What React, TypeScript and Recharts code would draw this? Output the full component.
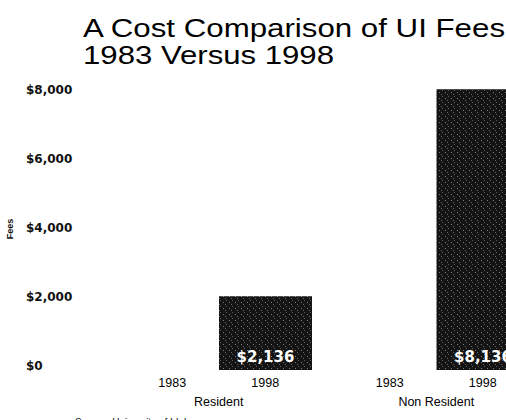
import React from 'react';
import { BarChart, Bar, XAxis, YAxis, LabelList } from 'recharts';

const categories = ['Resident', 'Non Resident'];
const years = ['1983', '1998'];
// 1983 bars are not visible in the picture
const fees1983 = [0, 0];
const fees1998 = [2136, 8136];
const yTicks = [0, 2000, 4000, 6000, 8000];

const data = categories.map((name, i) => ({
  name,
  y1983: fees1983[i],
  y1998: fees1998[i],
}));

const money = (v: number) => '$' + String(v).replace(/\B(?=(\d{3})+(?!\d))/g, ',');

const BAR = 93;

const YTick = (props: any) => {
  const { y, payload } = props;
  return (
    <text x={26} y={y - 4} dy="0.35em" fontFamily="DejaVu Sans" fontWeight="bold" fontSize={12} fill="#111">
      {money(payload.value)}
    </text>
  );
};

const XTick = (props: any) => {
  const { x, y, payload } = props;
  return (
    <g fontFamily="Liberation Sans, Arial" fontSize={12.5} fill="#000" textAnchor="middle">
      <text x={x - BAR / 2} y={y + 9}>{years[0]}</text>
      <text x={x + BAR / 2} y={y + 9}>{years[1]}</text>
      <text x={x} y={y + 28}>{payload.value}</text>
    </g>
  );
};

export default function App() {
  return (
    <div style={{ position: 'absolute', left: 0, top: 0, width: 506, height: 420, overflow: 'hidden', background: '#fff' }}>
      <svg width={506} height={420} style={{ position: 'absolute', left: 0, top: 0 }}>
        <defs>
          <pattern id="speckle" width={6} height={6} patternUnits="userSpaceOnUse">
            <rect width={6} height={6} fill="#141414" />
            <rect x={1} y={2} width={1} height={1} fill="#fff" opacity={0.45} />
            <rect x={4} y={0} width={1} height={1} fill="#fff" opacity={0.3} />
            <rect x={3} y={4} width={1} height={1} fill="#fff" opacity={0.35} />
          </pattern>
        </defs>
        <g fontFamily="Liberation Sans, Arial" fontSize={26} fill="#000">
          <text x={83} y={37} textLength={422} lengthAdjust="spacingAndGlyphs">A Cost Comparison of UI Fees</text>
          <text x={83} y={64} textLength={251} lengthAdjust="spacingAndGlyphs">1983 Versus 1998</text>
        </g>
        <text
          transform="translate(13,229) rotate(-90)"
          textAnchor="middle"
          fontFamily="Liberation Sans, Arial"
          fontWeight="bold"
          fontSize={9}
          fill="#111"
        >
          Fees
        </text>
        <text x={75} y={426} fontFamily="Liberation Sans, Arial" fontSize={10} fill="#111">
          Source: University of Idaho
        </text>
      </svg>
      <div style={{ position: 'absolute', left: 0, top: 0 }}>
        <BarChart
          width={560}
          height={420}
          data={data}
          margin={{ top: 87, right: 15, bottom: 0, left: 0 }}
          barGap={0}
          barSize={BAR}
        >
          <XAxis dataKey="name" axisLine={false} tickLine={false} height={50} tick={<XTick />} interval={0} />
          <YAxis
            width={110}
            domain={[0, 8200]}
            ticks={yTicks}
            axisLine={false}
            tickLine={false}
            tick={<YTick />}
          />
          <Bar dataKey="y1983" fill="url(#speckle)" isAnimationActive={false} />
          <Bar dataKey="y1998" fill="url(#speckle)" isAnimationActive={false}>
            <LabelList
              dataKey="y1998"
              position="insideBottom"
              offset={8}
              formatter={(v: any) => money(v)}
              fill="#fff"
              fontFamily="DejaVu Sans"
              fontWeight="bold"
              fontSize={15}
            />
          </Bar>
        </BarChart>
      </div>
    </div>
  );
}
